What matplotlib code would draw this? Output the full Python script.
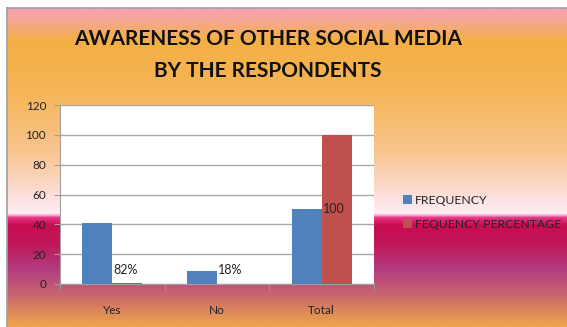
import numpy as np
import matplotlib.pyplot as plt
from matplotlib.colors import LinearSegmentedColormap

plt.rcParams['font.family'] = ['Lato', 'DejaVu Sans']

categories = ['Yes', 'No', 'Total']
frequency = [41, 9, 50]
percentage = [0.82, 0.18, 100]
pct_labels = ['82%', '18%', '100']
label_y = [9.5, 9.5, 50]

W, H = 567, 327
fig = plt.figure(figsize=(W / 100, H / 100), dpi=100)

# background gradient (pixel row -> colour)
stops = [(8, '#f7a0b6'), (22, '#f5a88a'), (40, '#f4b045'), (90, '#f5b456'),
         (150, '#f8c48c'), (185, '#fbd8c6'), (205, '#fde6ea'), (214, '#fdecf0'),
         (218, '#e9388a'), (225, '#c90c50'), (245, '#c0185a'), (270, '#b23c80'),
         (295, '#c86470'), (315, '#e08e58'), (327, '#eea24c')]
pos = [(p - 8) / (327 - 8) for p, _ in stops]
cmap = LinearSegmentedColormap.from_list('bg', list(zip(pos, [c for _, c in stops])))
bg = fig.add_axes([7 / W, 0, 1 - 7 / W, (H - 8) / H], zorder=-1)
bg.imshow(np.linspace(0, 1, 400)[:, None], aspect='auto', cmap=cmap,
          extent=[0, 1, 0, 1])
bg.set_xticks([])
bg.set_yticks([])
for side in ['right', 'bottom']:
    bg.spines[side].set_visible(False)
for side in ['top', 'left']:
    bg.spines[side].set_color('#a0a0a0')
    bg.spines[side].set_linewidth(1.2)

fig.text(268 / W, 1 - 39 / H, 'AWARENESS OF OTHER SOCIAL MEDIA', ha='center',
         va='center', fontsize=15, fontweight='bold', color='#111111')
fig.text(268 / W, 1 - 71 / H, 'BY THE RESPONDENTS', ha='center',
         va='center', fontsize=15, fontweight='bold', color='#111111')

ax = fig.add_axes([60 / W, 1 - 284 / H, (374 - 60) / W, (284 - 105) / H])
ax.set_facecolor('white')
x = np.arange(len(categories))
bw = 0.286
ax.bar(x - bw / 2, frequency, bw, color='#4f81bd', label='FREQUENCY', zorder=3)
ax.bar(x + bw / 2, percentage, bw, color='#c0504d',
       label='FEQUENCY PERCENTAGE', zorder=3)
for xi, lab, yv in zip(x, pct_labels, label_y):
    ax.text(xi + 0.01, yv, lab, ha='left', va='center', fontsize=9,
            color='#222222', zorder=4)

ax.set_xlim(-0.5, 2.5)
ax.set_ylim(0, 120)
ax.set_yticks(range(0, 121, 20))
ax.yaxis.grid(True, color='#a8a8a8', linewidth=1, zorder=0)
ax.set_xticks(x)
ax.set_xticklabels(categories)
ax.set_xticks([-0.5, 0.5, 1.5, 2.5], minor=True)
ax.tick_params(axis='x', which='major', length=0, pad=15, labelsize=8.5,
               colors='#222222')
ax.tick_params(axis='x', which='minor', length=4, color='#a0a0a0')
ax.tick_params(axis='y', length=4, color='#a0a0a0', labelsize=8.5,
               labelcolor='#222222', pad=6)
for side in ['top', 'right']:
    ax.spines[side].set_visible(False)
ax.spines['left'].set_color('#a0a0a0')
ax.spines['bottom'].set_color('#a0a0a0')

leg = fig.legend(loc='upper left', bbox_to_anchor=(392 / W, 1 - 184 / H),
                 frameon=False, fontsize=8.8, handlelength=0.7,
                 handleheight=0.7, handletextpad=0.3, labelspacing=1.05)
for t in leg.get_texts():
    t.set_color('#222222')

fig.savefig('out.png', dpi=100)
